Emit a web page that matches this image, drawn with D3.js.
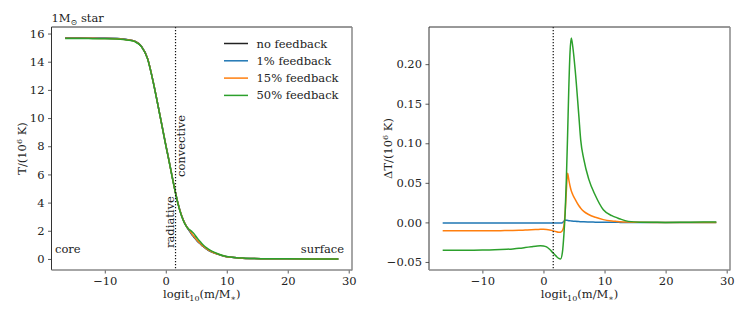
<!DOCTYPE html>
<html>
<head>
<meta charset="utf-8">
<script src="https://cdn.jsdelivr.net/npm/d3@7"></script>
<style>
body { margin: 0; background: #fff; }
text { font-family: "DejaVu Serif", serif; fill: #222; }
</style>
</head>
<body>
<div id="chart"></div>
<script>
// mass coordinate grid, logit10(m/M*)
var massCoord = [-16.5, -14, -12, -10, -8, -7, -6, -5, -4, -3, -2, -1, -0.5, 0, 0.5, 1, 1.5, 2, 2.5, 2.8,
    3.1, 3.35, 3.55, 3.75, 3.95, 4.15, 4.35, 4.55, 4.8, 5.2, 5.8, 6.1, 6.6, 7.4, 8.5, 9.8, 11.2, 12, 12.6, 13.9,
    15.8, 18, 20, 24, 28.3];

// T / 1e6 K without feedback
var tempNoFeedback = [15.68, 15.68, 15.67, 15.66, 15.64, 15.61, 15.55, 15.44, 15.1, 14.25, 12.45, 10.3, 9.2, 8.1, 7.05, 5.95, 4.9, 3.95, 3.2, 2.85,
    2.55, 2.35, 2.2, 2.07, 1.95, 1.82, 1.7, 1.6, 1.46, 1.26, 1.02, 0.9, 0.74, 0.53, 0.34, 0.17, 0.1, 0.07, 0.055, 0.035,
    0.02, 0.012, 0.008, 0.004, 0.002];

// delta T / 1e6 K relative to no feedback
var deltaT1 = [-0.0008, -0.0008, -0.0008, -0.0008, -0.0008, -0.0008, -0.0008, -0.0008, -0.0008, -0.0008, -0.0008, -0.0008, -0.0008, -0.0008, -0.0008, -0.0008, -0.0008, -0.0008, -0.0008, -0.0008,
    -0.0004, 0.0015, 0.003, 0.0028, 0.0025, 0.0022, 0.002, 0.0018, 0.0016, 0.0013, 0.001, 0.0009, 0.0007, 0.0005, 0.0003, 0.0002, 0.0001, 0.0001, 0, 0,
    0, 0, 0, 0, 0];
var deltaT15 = [-0.0105, -0.0105, -0.0105, -0.0105, -0.0104, -0.0104, -0.0103, -0.0102, -0.0100, -0.0097, -0.0094, -0.0090, -0.0088, -0.0088, -0.0090, -0.0095, -0.0104, -0.0116, -0.0125, -0.0124,
    -0.0105, -0.004, 0.012, 0.040, 0.062, 0.054, 0.046, 0.040, 0.035, 0.029, 0.021, 0.018, 0.014, 0.010, 0.0065, 0.0035, 0.0018, 0.0012, 0.0008, 0.0004,
    0.0001, 0, 0, 0, 0];
var deltaT50 = [-0.0353, -0.0352, -0.0351, -0.0350, -0.0347, -0.0344, -0.0340, -0.0335, -0.0328, -0.0318, -0.0307, -0.0297, -0.0295, -0.0298, -0.0310, -0.0340, -0.0380, -0.0420, -0.0455, -0.0462,
    -0.038, -0.015, 0.012, 0.055, 0.110, 0.170, 0.215, 0.233, 0.222, 0.192, 0.134, 0.104, 0.080, 0.055, 0.034, 0.016, 0.0085, 0.0060, 0.0042, 0.0013,
    0.0002, 0.0001, 0, 0.0003, 0.0005];

var seriesNames = ["no feedback", "1% feedback", "15% feedback", "50% feedback"];
var seriesColors = ["#222222", "#1f77b4", "#ff7f0e", "#2ca02c"];
var xTicks = [-10, 0, 10, 20, 30];
var tempTicks = [0, 2, 4, 6, 8, 10, 12, 14, 16];
var deltaTicks = [-0.05, 0, 0.05, 0.1, 0.15, 0.2];
var zoneBoundary = 1.6; // radiative / convective

var width = 747, height = 320;
var plotTop = 27, plotBottom = 270;
var leftPanel = {x0: 51.5, x1: 352};
var rightPanel = {x0: 429, x1: 730};

var svg = d3.select("#chart").append("svg")
    .attr("width", width)
    .attr("height", height);
svg.append("rect").attr("width", width).attr("height", height).attr("fill", "#fff");

// matplotlib style 5% margins
function padded(lo, hi) {
    var m = (hi - lo) * 0.05;
    return [lo - m, hi + m];
}

var xDomain = padded(d3.min(massCoord), d3.max(massCoord));

// left panel series: T of each run
var deltas = [null, deltaT1, deltaT15, deltaT50];
var leftSeries = deltas.map(function(dt) {
    return massCoord.map(function(m, i) { return [m, tempNoFeedback[i] + (dt ? dt[i] : 0)]; });
});
var rightSeries = [deltaT1, deltaT15, deltaT50].map(function(dt) {
    return massCoord.map(function(m, i) { return [m, dt[i]]; });
});

function drawPanel(p, yDomain, yTicks, yFormat, series, colors) {
    var x = d3.scaleLinear().domain(xDomain).range([p.x0, p.x1]);
    var y = d3.scaleLinear().domain(yDomain).range([plotBottom, plotTop]);
    var g = svg.append("g");

    var gx = g.append("g")
        .attr("transform", "translate(0," + plotBottom + ")")
        .call(d3.axisBottom(x).tickValues(xTicks).tickSize(3.5).tickPadding(3.5).tickFormat(d3.format("d")));
    var gy = g.append("g")
        .attr("transform", "translate(" + p.x0 + ",0)")
        .call(d3.axisLeft(y).tickValues(yTicks).tickSize(3.5).tickPadding(3.5).tickFormat(yFormat));
    [gx, gy].forEach(function(a) {
        a.attr("font-family", null);
        a.select(".domain").remove();
        a.selectAll(".tick line").attr("stroke", "#333").attr("stroke-width", 0.8);
        a.selectAll(".tick text").attr("font-size", "11.5px").attr("fill", "#222");
    });

    var line = d3.line()
        .x(function(d) { return x(d[0]); })
        .y(function(d) { return y(d[1]); })
        .curve(d3.curveMonotoneX);

    var clipId = "clip" + Math.round(p.x0);
    svg.append("clipPath").attr("id", clipId)
        .append("rect").attr("x", p.x0).attr("y", plotTop).attr("width", p.x1 - p.x0).attr("height", plotBottom - plotTop);

    g.append("g").attr("clip-path", "url(#" + clipId + ")")
        .selectAll("path")
        .data(series)
        .enter().append("path")
        .attr("d", line)
        .attr("fill", "none")
        .attr("stroke", function(d, i) { return colors[i]; })
        .attr("stroke-width", 1.5);

    // zone boundary
    g.append("line")
        .attr("x1", x(zoneBoundary)).attr("x2", x(zoneBoundary))
        .attr("y1", plotTop).attr("y2", plotBottom)
        .attr("stroke", "#111")
        .attr("stroke-width", 1.2)
        .attr("stroke-dasharray", "1.2,1.8");

    // frame
    g.append("line").attr("x1", p.x0).attr("x2", p.x1).attr("y1", plotTop).attr("y2", plotTop).attr("stroke", "#333").attr("stroke-width", 1);
    g.append("line").attr("x1", p.x0).attr("x2", p.x0).attr("y1", plotTop).attr("y2", plotBottom).attr("stroke", "#333").attr("stroke-width", 1);
    g.append("line").attr("x1", p.x1).attr("x2", p.x1).attr("y1", plotTop).attr("y2", plotBottom + 0.5).attr("stroke", "#888").attr("stroke-width", 1.5);
    g.append("line").attr("x1", p.x0).attr("x2", p.x1).attr("y1", plotBottom).attr("y2", plotBottom).attr("stroke", "#888").attr("stroke-width", 1.5);

    // x label: logit10(m/M*)
    var xl = g.append("text")
        .attr("x", (p.x0 + p.x1) / 2)
        .attr("y", 298)
        .attr("text-anchor", "middle")
        .attr("font-size", "11.5px");
    xl.append("tspan").text("logit");
    xl.append("tspan").attr("dy", 2.5).attr("font-size", "8px").text("10");
    xl.append("tspan").attr("dy", -2.5).text("(m/M");
    xl.append("tspan").attr("dy", 2.5).attr("font-size", "8px").text("∗");
    xl.append("tspan").attr("dy", -2.5).text(")");

    return {x: x, y: y, g: g};
}

// ---- left panel: temperature profile
var L = drawPanel(leftPanel, padded(0, d3.max(tempNoFeedback)), tempTicks, d3.format("d"), leftSeries, seriesColors);

var ylL = L.g.append("text")
    .attr("transform", "translate(25.5," + (plotTop + plotBottom) / 2 + ") rotate(-90)")
    .attr("text-anchor", "middle")
    .attr("font-size", "11.5px");
ylL.append("tspan").text("T/(10");
ylL.append("tspan").attr("dy", -4).attr("font-size", "8px").text("6");
ylL.append("tspan").attr("dy", 4).text(" K)");

var title = L.g.append("text").attr("x", 51.5).attr("y", 22).attr("font-size", "11.5px");
title.append("tspan").text("1M");
title.append("tspan").attr("dy", 2.5).attr("font-size", "8px").text("⊙");
title.append("tspan").attr("dy", -2.5).text(" star");

L.g.append("text").attr("x", 55).attr("y", 253).attr("font-size", "11.5px").text("core");
L.g.append("text").attr("x", 344).attr("y", 253).attr("text-anchor", "end").attr("font-size", "11.5px").text("surface");

L.g.append("text")
    .attr("transform", "translate(" + (L.x(zoneBoundary) - 2) + ",248) rotate(-90)")
    .attr("font-size", "11.5px").text("radiative");
L.g.append("text")
    .attr("transform", "translate(" + (L.x(zoneBoundary) + 9.5) + ",177) rotate(-90)")
    .attr("font-size", "11.5px").text("convective");

// legend
var legend = L.g.append("g");
seriesNames.forEach(function(name, i) {
    var yy = 43.5 + i * 17.3;
    legend.append("line")
        .attr("x1", 224).attr("x2", 248).attr("y1", yy).attr("y2", yy)
        .attr("stroke", seriesColors[i]).attr("stroke-width", 1.5);
    legend.append("text")
        .attr("x", 256.5).attr("y", yy + 4)
        .attr("font-size", "11.5px").text(name);
});

// ---- right panel: temperature change
var allDelta = deltaT1.concat(deltaT15, deltaT50);
var R = drawPanel(rightPanel, padded(d3.min(allDelta), d3.max(allDelta)), deltaTicks, d3.format(".2f"), rightSeries, seriesColors.slice(1));

var ylR = R.g.append("text")
    .attr("transform", "translate(392," + (plotTop + plotBottom) / 2 + ") rotate(-90)")
    .attr("text-anchor", "middle")
    .attr("font-size", "11.5px");
ylR.append("tspan").text("ΔT/(10");
ylR.append("tspan").attr("dy", -4).attr("font-size", "8px").text("6");
ylR.append("tspan").attr("dy", 4).text(" K)");
</script>
</body>
</html>
